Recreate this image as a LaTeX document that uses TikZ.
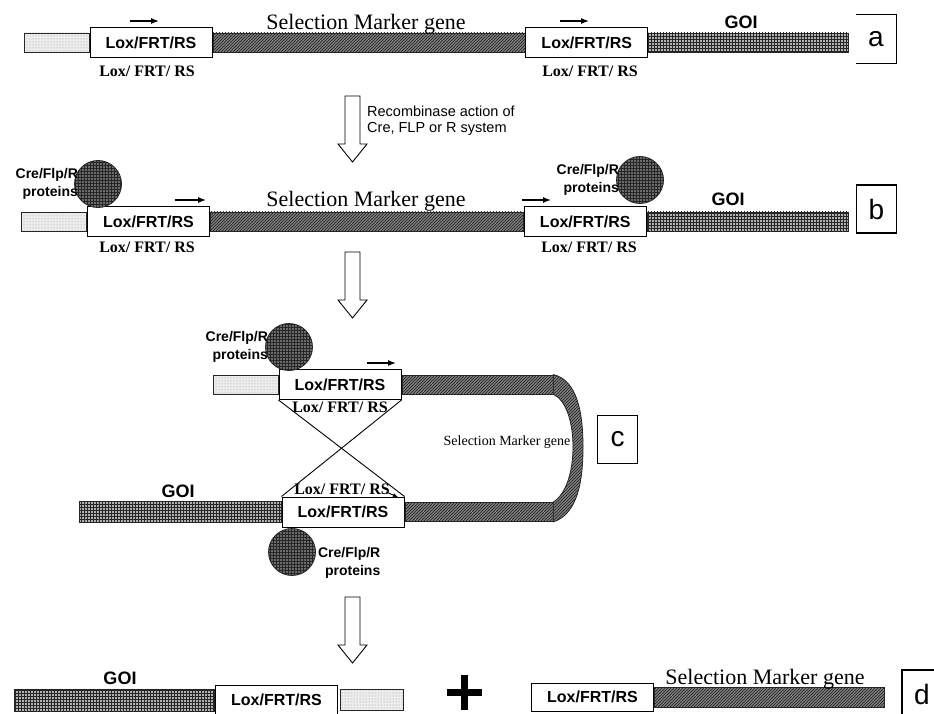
\documentclass[tikz,border=0pt]{standalone}
\usepackage{fontspec}
\setmainfont{Liberation Serif}
\setsansfont{Liberation Sans}
\usetikzlibrary{positioning,patterns,arrows.meta}

\tikzset{
  bar/.style={draw=black!85, line width=0.8pt, inner sep=0pt, minimum height=19},
  spacer/.style={bar, preaction={fill=black!7}, pattern=dots, pattern color=gray!85},
  marker/.style={bar, preaction={fill=black!50}, pattern=north east lines, pattern color=black!90},
  goi/.style={bar, preaction={fill=black!30}, pattern=grid, pattern color=black!85},
  lox/.style={draw, line width=1pt, fill=white, inner sep=0pt, minimum width=122, minimum height=30,
    font=\sffamily\bfseries\fontsize{16}{18}\selectfont},
  prot/.style={circle, draw=black!85, line width=0.8pt, preaction={fill=black!58}, pattern=grid,
    pattern color=black!85, minimum size=47, inner sep=0pt},
  protlbl/.style={align=right, inner sep=0pt, font=\sffamily\bfseries\fontsize{14}{18}\selectfont},
  sitelbl/.style={anchor=base, inner sep=0pt, font=\rmfamily\bfseries\fontsize{16}{18}\selectfont},
  smglbl/.style={anchor=base, inner sep=0pt, font=\rmfamily\fontsize{22}{24}\selectfont},
  goilbl/.style={anchor=base, inner sep=0pt, font=\sffamily\bfseries\fontsize{18}{20}\selectfont},
  panel/.style={minimum width=40, minimum height=48, inner sep=0pt, font=\sffamily\fontsize{28}{28}\selectfont},
  dirarrow/.style={line width=1.2pt, -{Latex[length=8pt,width=6pt]}},
  xline/.style={line width=0.9pt},
  hollowarrow/.pic={
    \draw[line width=0.9pt, fill=white] (-7.5,0) -- (7.5,0) -- (7.5,48) -- (14.5,48)
      -- (0,66) -- (-14.5,48) -- (-7.5,48) -- cycle;
  }
}

\begin{document}
\begin{tikzpicture}[x=1pt, y=-1pt]
  \useasboundingbox (0,0) rectangle (934,714);

  % a
  \node[lox] (loxa1) at (151,42.5) {Lox/FRT/RS};
  \node[spacer, minimum width=65, left=0pt of loxa1] (spa) {};
  \node[marker, minimum width=312, right=0pt of loxa1] (smga) {};
  \node[lox, right=0pt of smga] (loxa2) {Lox/FRT/RS};
  \node[goi, minimum width=200, right=0pt of loxa2] (goia) {};
  \node[smglbl] (smglbla) at (366,30) {Selection Marker gene};
  \node[goilbl] (goilbla) at (741,29) {GOI};
  \node[sitelbl] (sitea1) at (147,77) {Lox/ FRT/ RS};
  \node[sitelbl] (sitea2) at (590,77) {Lox/ FRT/ RS};
  \draw[dirarrow] (130,21) -- (159,21);
  \draw[dirarrow] (560,21) -- (589,21);
  \node[panel] (taga) at (876,39) {a};
  \draw[line width=1.2pt] (taga.north west) -- (taga.north east) -- (taga.south east) -- (taga.south west);

  \pic at (352.5,96) {hollowarrow};
  \node[align=left, anchor=west, inner sep=0pt, font=\sffamily\fontsize{14.5}{16}\selectfont]
    (recomb) at (367,121) {Recombinase action of\\Cre, FLP or R system};

  % b
  \node[lox] (loxb1) at (148.5,221.5) {Lox/FRT/RS};
  \node[spacer, minimum width=65, left=0pt of loxb1] (spb) {};
  \node[marker, minimum width=313, right=0pt of loxb1] (smgb) {};
  \node[lox, right=0pt of smgb] (loxb2) {Lox/FRT/RS};
  \node[goi, minimum width=201, right=0pt of loxb2] (goib) {};
  \node[smglbl] (smglblb) at (366,207) {Selection Marker gene};
  \node[goilbl] (goilblb) at (728,205) {GOI};
  \node[sitelbl] (siteb1) at (147,252) {Lox/ FRT/ RS};
  \node[sitelbl] (siteb2) at (589,252) {Lox/ FRT/ RS};
  \draw[dirarrow] (175,200) -- (206,200);
  \draw[dirarrow] (522,200) -- (551,200);
  \node[prot] (cb1) at (98,184) {};
  \node[prot] (cb2) at (640,180) {};
  \node[protlbl, left=-4pt of cb1] (pb1) {Cre/Flp/R\\proteins};
  \node[protlbl, left=-3pt of cb2] (pb2) {Cre/Flp/R\\proteins};
  \node[panel, draw, line width=1.2pt] (tagb) at (876.5,209) {b};

  \pic at (352.5,252) {hollowarrow};

  % c
  \node[lox] (loxc1) at (340,384.5) {Lox/FRT/RS};
  \node[spacer, minimum width=65, left=0pt of loxc1] (spc) {};
  \node[marker, minimum width=151, right=0pt of loxc1] (smgc1) {};
  \node[lox] (loxc2) at (343,512) {Lox/FRT/RS};
  \node[goi, minimum width=202, minimum height=21, left=0pt of loxc2] (goic) {};
  \node[marker, minimum width=148, right=0pt of loxc2] (smgc2) {};
  \draw[draw=black!85, line width=0.8pt, preaction={fill=black!50}, pattern=north east lines, pattern color=black!90]
    (smgc1.north east) .. controls (578,380) and (583,415) .. (583,447)
    .. controls (583,480) and (578,514) .. (smgc2.south east) -- (smgc2.north east)
    .. controls (566,494) and (573,472) .. (573,447)
    .. controls (573,422) and (566,400) .. (smgc1.south east) -- cycle;
  \draw[xline] (loxc1.south west) -- (loxc2.north east);
  \draw[xline] (loxc1.south east) -- (loxc2.north west);
  \node[sitelbl] (sitec1) at (340,412) {Lox/ FRT/ RS};
  \node[sitelbl] (sitec2) at (342,494) {Lox/ FRT/ RS};
  \draw[dirarrow] (367,363) -- (396,363);
  \draw[line width=0.9pt, -{Latex[length=5pt,width=4pt]}] (386,492) -- (398,497);
  \node[prot] (cc1) at (289,347) {};
  \node[prot] (cc2) at (292,552) {};
  \node[protlbl, left=-3pt of cc1] (pc1) {Cre/Flp/R\\proteins};
  \node[protlbl, right=2pt of cc2, yshift=-11pt] (pc2) {Cre/Flp/R\\proteins};
  \node[goilbl] (goilblc) at (178,497) {GOI};
  \node[anchor=base, inner sep=0pt, font=\rmfamily\fontsize{14}{16}\selectfont] (smglblc) at (507,445) {Selection Marker gene};
  \node[panel, draw, line width=1.2pt] (tagc) at (617.5,439.5) {c};

  \pic at (352.5,597) {hollowarrow};

  % d
  \node[lox] (loxd1) at (276.5,700) {Lox/FRT/RS};
  \node[goi, minimum width=200, minimum height=22, left=0pt of loxd1] (goid) {};
  \node[spacer, minimum width=63, minimum height=21, right=2pt of loxd1] (spd) {};
  \node[goilbl] (goilbld) at (120,684) {GOI};
  \coordinate (plus) at (464.5,692.5);
  \draw[line width=7pt] ([xshift=-17.5pt]plus) -- ([xshift=17.5pt]plus);
  \draw[line width=7pt] ([yshift=17.5pt]plus) -- ([yshift=-17.5pt]plus);
  \node[lox, minimum height=28] (loxd2) at (592.5,697) {Lox/FRT/RS};
  \node[marker, minimum width=230, minimum height=20, right=0pt of loxd2] (smgd) {};
  \node[smglbl] (smglbld) at (765,684) {Selection Marker gene};
  \node[panel, draw, line width=1.2pt] (tagd) at (922,694) {d};
\end{tikzpicture}
\end{document}
